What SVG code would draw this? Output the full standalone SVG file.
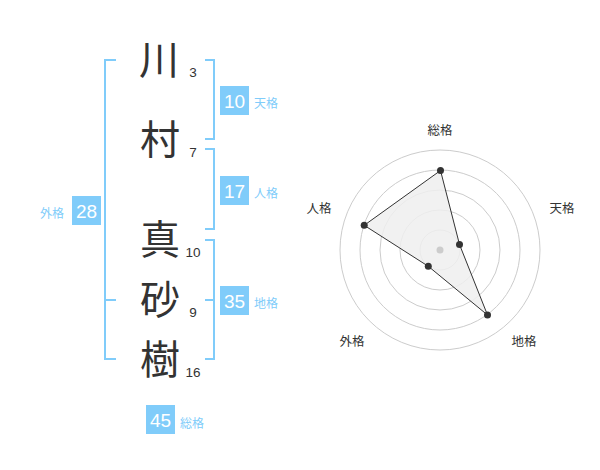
<svg xmlns="http://www.w3.org/2000/svg" width="600" height="470" viewBox="0 0 600 470">
<style>
.kanji{font-family:"Noto Sans CJK JP","Noto Sans CJK SC",sans-serif;font-size:40px;fill:#333;text-anchor:middle}
.num{font-family:"Liberation Sans",Arial,sans-serif;font-size:13.5px;fill:#333;text-anchor:middle}
.box{fill:#80ccfa}
.boxt{font-family:"Liberation Sans",Arial,sans-serif;font-size:19px;fill:#fff;text-anchor:middle}
.lbl{font-family:"Noto Sans CJK JP",sans-serif;font-size:12px;fill:#80ccfa}
.br{fill:none;stroke:#80ccfa;stroke-width:2}
.ring{fill:none;stroke:#cccccc;stroke-width:1}
.axl{font-family:"Noto Sans CJK JP",sans-serif;font-size:12.5px;fill:#333;text-anchor:middle}
.pt{fill:#333}
</style>
<g id="connectors">
<path class="br" d="M116,60 H105 V359 H116 M105,300 H116"/>
<path class="br" d="M205,60 H214 V139 H205"/>
<path class="br" d="M205,149 H214 V229 H205"/>
<path class="br" d="M205,240 H214 V359 H205 M214,300 H205"/>
</g>
<g id="char1"><text class="kanji" x="159" y="74">川</text><text class="num" x="193" y="77">3</text></g>
<g id="char2"><text class="kanji" x="160" y="154">村</text><text class="num" x="193" y="157">7</text></g>
<g id="char3"><text class="kanji" x="160" y="254">真</text><text class="num" x="193" y="257">10</text></g>
<g id="char4"><text class="kanji" x="160" y="314">砂</text><text class="num" x="193" y="317">9</text></g>
<g id="char5"><text class="kanji" x="160" y="374">樹</text><text class="num" x="193" y="377">16</text></g>
<g id="tenkaku"><rect class="box" x="220" y="86" width="29" height="29"/><text class="boxt" x="234.5" y="107.5">10</text><text class="lbl" x="254" y="108">天格</text></g>
<g id="jinkaku"><rect class="box" x="220" y="176" width="29" height="29"/><text class="boxt" x="234.5" y="197.5">17</text><text class="lbl" x="254" y="198">人格</text></g>
<g id="chikaku"><rect class="box" x="220" y="286" width="29" height="29"/><text class="boxt" x="234.5" y="307.5">35</text><text class="lbl" x="254" y="308">地格</text></g>
<g id="gaikaku"><rect class="box" x="72" y="196" width="29" height="29"/><text class="boxt" x="86.5" y="217.5">28</text><text class="lbl" x="40" y="218">外格</text></g>
<g id="soukaku"><rect class="box" x="146" y="405" width="29" height="29"/><text class="boxt" x="160.5" y="426.5">45</text><text class="lbl" x="180" y="428">総格</text></g>
<g id="radar">
<circle class="ring" cx="440" cy="250" r="20"/>
<circle class="ring" cx="440" cy="250" r="40"/>
<circle class="ring" cx="440" cy="250" r="60"/>
<circle class="ring" cx="440" cy="250" r="80"/>
<circle class="ring" cx="440" cy="250" r="100"/>
<polygon points="440.5,170.5 459.5,244.5 487.5,315 428.3,266.3 364.2,225.3" fill="#eeeeee" fill-opacity="0.85" stroke="#333" stroke-width="1"/>
<circle cx="440" cy="250" r="3.5" fill="#cccccc"/>
<circle class="pt" cx="440.5" cy="170.5" r="3.5"/>
<circle class="pt" cx="459.5" cy="244.5" r="3.5"/>
<circle class="pt" cx="487.5" cy="315" r="3.5"/>
<circle class="pt" cx="428.3" cy="266.3" r="3.5"/>
<circle class="pt" cx="364.2" cy="225.3" r="3.5"/>
<text class="axl" x="440" y="135">総格</text>
<text class="axl" x="562" y="213">天格</text>
<text class="axl" x="319" y="213">人格</text>
<text class="axl" x="352" y="346">外格</text>
<text class="axl" x="524" y="346">地格</text>
</g>
</svg>
